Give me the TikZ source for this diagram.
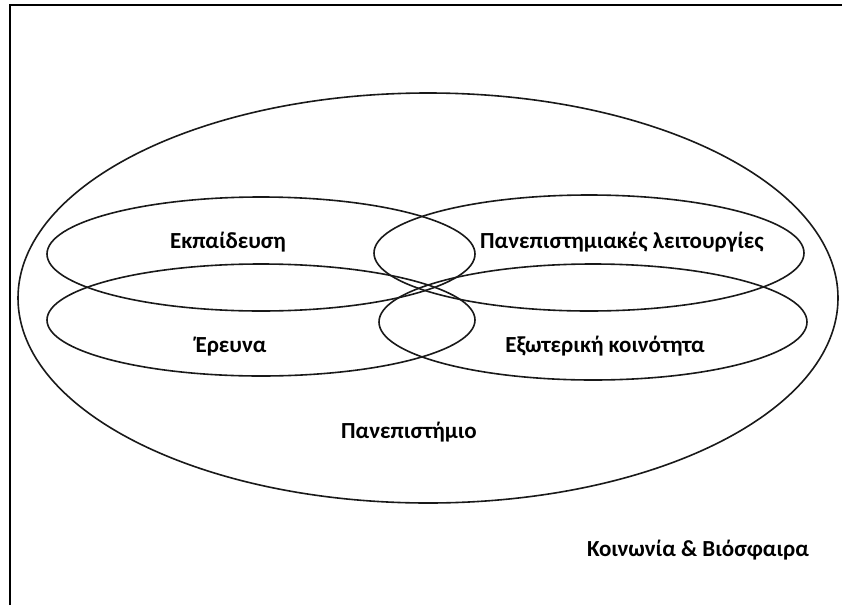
\documentclass[tikz,border=0pt]{standalone}
\usepackage{fontspec}
\setmainfont{Carlito}
\tikzset{
  ring/.style={line width=1.6pt, black!90},
  frame/.style={line width=2.2pt},
  lbl/.style={font=\bfseries\fontsize{23}{27}\selectfont}
}

\begin{document}
\begin{tikzpicture}[x=1pt,y=-1pt]

  \useasboundingbox (0,0) rectangle (842,605);

  % page frame (only top and left edges show)
  \draw[frame] (10,605) -- (10,5) -- (842,5);

  % society & biosphere, university
  \draw[ring] (428,298) ellipse (410 and 205);

  \draw[ring] (261,254) ellipse (214 and 57);
  \draw[ring] (261,320) ellipse (214 and 56);
  \draw[ring] (589,253) ellipse (215 and 58);
  \draw[ring] (593,322) ellipse (214 and 58);

  \node[lbl] (teach)   at (228,242) {Εκπαίδευση};
  \node[lbl] (uni-fn)  at (622,242) {Πανεπιστημιακές λειτουργίες};
  \node[lbl] (research) at (231,347) {Έρευνα};
  \node[lbl] (outside) at (605,346) {Εξωτερική κοινότητα};
  \node[lbl] (uni)     at (409,432) {Πανεπιστήμιο};
  \node[lbl] (society) at (698,550) {Κοινωνία \& Βιόσφαιρα};

\end{tikzpicture}
\end{document}
